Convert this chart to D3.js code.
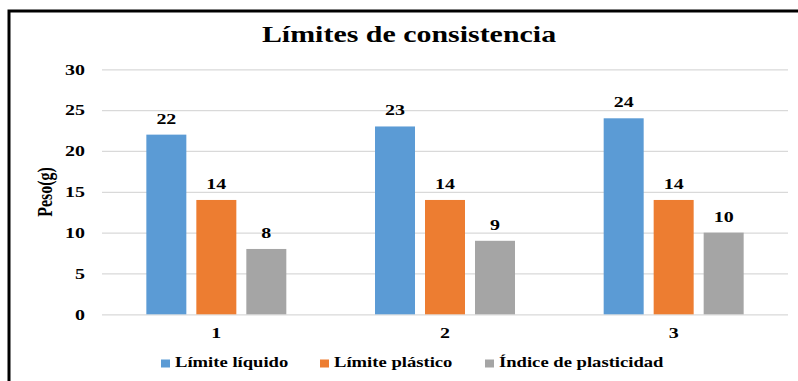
<!DOCTYPE html>
<html>
<head>
<meta charset="utf-8">
<script src="https://cdn.jsdelivr.net/npm/d3@7"></script>
<style>
  html, body { margin: 0; padding: 0; background: #fff; }
  svg { display: block; }
  svg text { font-family: "Liberation Serif", "Times New Roman", serif; font-weight: bold; fill: #000; }
</style>
</head>
<body>
<svg id="chart" width="798" height="381"></svg>
<script>
// Consistency limits per sample
const categories = ["1", "2", "3"];
const seriesNames = ["Límite líquido", "Límite plástico", "Índice de plasticidad"];
const liquidLimit = [22, 23, 24];
const plasticLimit = [14, 14, 14];
const plasticityIndex = [8, 9, 10];
const yTicks = [0, 5, 10, 15, 20, 25, 30];
const colors = ["#5b9bd5", "#ed7d31", "#a5a5a5"];

const seriesValues = [liquidLimit, plasticLimit, plasticityIndex];
const rows = categories.map((c, i) => ({
  cat: c,
  vals: seriesNames.map((s, j) => ({ key: s, value: seriesValues[j][i], color: colors[j] }))
}));

// glyphs are drawn wide: horizontal stretch applied to every label
const STRETCH = 1.33;
function widen(sel) {
  sel.each(function () {
    const t = d3.select(this);
    const x = +t.attr("x") || 0, y = +t.attr("y") || 0;
    t.attr("x", null).attr("y", null)
      .attr("transform", `translate(${x},${y}) scale(${STRETCH},1)`);
  });
}

const svg = d3.select("#chart");

// outer frame
svg.append("rect")
  .attr("x", 9).attr("y", 11)
  .attr("width", 820).attr("height", 400)
  .attr("fill", "none").attr("stroke", "#000").attr("stroke-width", 3);

const plotLeft = 102, plotRight = 788, plotTop = 69.3, plotBottom = 314.3;

const y = d3.scaleLinear().domain([0, 30]).range([plotBottom, plotTop]);
const x0 = d3.scaleBand().domain(categories).range([plotLeft, plotRight]).paddingInner(0).paddingOuter(0);
const x1 = d3.scaleBand().domain(seriesNames).range([0, x0.bandwidth()])
  .paddingInner(0.2).paddingOuter(0.887);

// value axis with gridlines
const yAxis = d3.axisLeft(y).tickValues(yTicks).tickSize(-(plotRight - plotLeft)).tickPadding(17);
const gy = svg.append("g").attr("transform", `translate(${plotLeft},0)`).call(yAxis);
gy.select(".domain").remove();
gy.attr("font-family", null).attr("font-size", null);
gy.selectAll(".tick line").attr("stroke", "#d9d9d9").attr("stroke-width", 1.3);
gy.selectAll(".tick text").attr("font-size", 15).attr("fill", "#000").call(widen);

// category axis labels
const xAxis = d3.axisBottom(x0).tickSize(0).tickPadding(13);
const gx = svg.append("g").attr("transform", `translate(0,${plotBottom})`).call(xAxis);
gx.select(".domain").remove();
gx.attr("font-family", null).attr("font-size", null);
gx.selectAll(".tick text").attr("font-size", 15).attr("fill", "#000").call(widen);

// bars
const groups = svg.append("g").selectAll("g").data(rows).join("g")
  .attr("transform", d => `translate(${x0(d.cat)},0)`);

groups.selectAll("rect").data(d => d.vals).join("rect")
  .attr("x", d => x1(d.key))
  .attr("y", d => y(d.value))
  .attr("width", x1.bandwidth())
  .attr("height", d => y(0) - y(d.value))
  .attr("fill", d => d.color);

// value labels
groups.selectAll("text.val").data(d => d.vals).join("text")
  .attr("class", "val")
  .attr("x", d => x1(d.key) + x1.bandwidth() / 2)
  .attr("y", d => y(d.value) - 11)
  .attr("text-anchor", "middle")
  .attr("font-size", 15)
  .text(d => d.value)
  .call(widen);

// title
svg.append("text")
  .attr("x", 409).attr("y", 42)
  .attr("text-anchor", "middle")
  .attr("font-size", 22.5)
  .text("Límites de consistencia")
  .call(widen);

// y-axis title
svg.append("text")
  .attr("transform", `translate(52,192) rotate(-90) scale(1,${STRETCH})`)
  .attr("text-anchor", "middle")
  .attr("font-size", 16)
  .text("Peso(g)");

// legend
const legendX = [161, 320, 485];
const lg = svg.append("g").selectAll("g").data(seriesNames).join("g")
  .attr("transform", (d, i) => `translate(${legendX[i]},0)`);
lg.append("rect").attr("x", 0).attr("y", 359.5).attr("width", 9).attr("height", 8)
  .attr("fill", (d, i) => colors[i]);
lg.append("text").attr("x", 14).attr("y", 367)
  .attr("font-size", 14)
  .text(d => d)
  .call(widen);
</script>
</body>
</html>
